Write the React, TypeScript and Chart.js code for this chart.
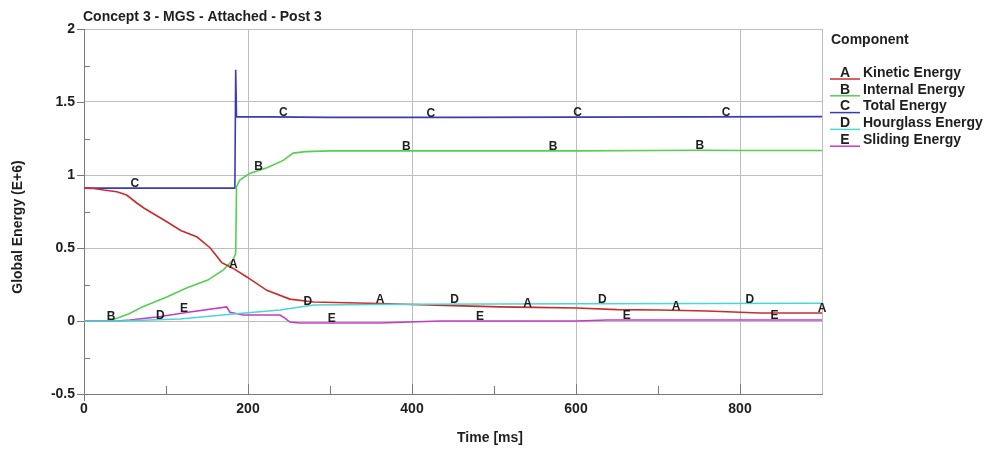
import React, { useEffect, useRef } from "react";
import { Chart, registerables } from "chart.js";

Chart.register(...registerables);

const TITLE = "Concept 3 - MGS - Attached - Post 3";
const X_TITLE = "Time [ms]";
const Y_TITLE = "Global Energy (E+6)";
const LEGEND_TITLE = "Component";

const seriesNames = ["Kinetic Energy", "Internal Energy", "Total Energy", "Hourglass Energy", "Sliding Energy"];
const seriesLetters = ["A", "B", "C", "D", "E"];
const seriesColors = ["#cc2b2b", "#55cf4f", "#3b3bb5", "#4ad6d2", "#c43cc4"];

// Kinetic Energy (A)
const kineticT = [0, 12, 24, 40, 52, 64, 73, 80, 98, 118, 138, 154, 168, 182, 199, 223, 251, 280, 320, 361, 389, 450, 507, 550, 601, 650, 702, 760, 824, 900];
const kineticV = [0.91, 0.908, 0.897, 0.885, 0.863, 0.81, 0.774, 0.75, 0.69, 0.62, 0.575, 0.5, 0.4, 0.36, 0.3, 0.21, 0.15, 0.13, 0.125, 0.12, 0.115, 0.105, 0.097, 0.093, 0.089, 0.078, 0.075, 0.068, 0.055, 0.055];

// Internal Energy (B)
const internalT = [0, 30, 41, 55, 71, 101, 125, 151, 170, 182, 185, 186, 190, 202, 223, 243, 255, 270, 300, 400, 600, 700, 750, 800, 900];
const internalV = [0, 0, 0.02, 0.05, 0.096, 0.165, 0.226, 0.28, 0.35, 0.42, 0.465, 0.92, 0.966, 1.01, 1.05, 1.1, 1.15, 1.16, 1.165, 1.165, 1.165, 1.168, 1.17, 1.168, 1.168];

// Total Energy (C)
const totalT = [0, 183, 184, 185, 186, 300, 450, 900];
const totalV = [0.91, 0.91, 0.92, 1.72, 1.4, 1.395, 1.395, 1.4];

// Hourglass Energy (D)
const hourglassT = [0, 45, 117, 182, 239, 280, 400, 600, 900];
const hourglassV = [0, 0, 0.014, 0.048, 0.075, 0.11, 0.115, 0.118, 0.122];

// Sliding Energy (E)
const slidingT = [0, 40, 56, 89, 129, 174, 178, 194, 239, 245, 251, 263, 361, 434, 600, 638, 751, 900];
const slidingV = [0, 0, 0.007, 0.027, 0.062, 0.096, 0.06, 0.041, 0.041, 0.02, -0.007, -0.014, -0.014, 0, 0, 0.007, 0.007, 0.007];

// letter markers along each curve (time positions)
const labelTimesA = [182, 361, 541, 722, 900];
const labelTimesB = [33, 213, 393, 572, 751];
const labelTimesC = [62, 243, 423, 602, 783];
const labelTimesD = [93, 273, 452, 632, 812];
const labelTimesE = [122, 302, 483, 662, 842];

const xTickValues = [0, 200, 400, 600, 800];
const yTickValues = [-0.5, 0, 0.5, 1, 1.5, 2];

const FONT = "'Liberation Sans', Arial, sans-serif";
const GRID = "#bdbdbd";
const AXIS = "#7a7a7a";
const TEXT = "#1e1e1e";

const seriesT = [kineticT, internalT, totalT, hourglassT, slidingT];
const seriesV = [kineticV, internalV, totalV, hourglassV, slidingV];
const labelTimes = [labelTimesA, labelTimesB, labelTimesC, labelTimesD, labelTimesE];

function interp(t: number[], v: number[], x: number): number {
  if (x <= t[0]) return v[0];
  for (let i = 1; i < t.length; i++) {
    if (x <= t[i]) {
      const f = (x - t[i - 1]) / (t[i] - t[i - 1]);
      return v[i - 1] + f * (v[i] - v[i - 1]);
    }
  }
  return v[v.length - 1];
}

const overlay = {
  id: "overlay",
  afterDatasetsDraw(chart: any) {
    const { ctx, chartArea } = chart;
    const xs = chart.scales.x;
    const ys = chart.scales.y;
    ctx.save();
    // tick marks
    ctx.strokeStyle = AXIS;
    ctx.lineWidth = 1;
    ctx.beginPath();
    for (let v = 100; v < 900; v += 100) {
      const px = Math.round(xs.getPixelForValue(v)) + 0.5;
      ctx.moveTo(px, chartArea.bottom);
      ctx.lineTo(px, chartArea.bottom - (v % 200 === 0 ? 10 : 8));
    }
    const x0 = Math.round(xs.getPixelForValue(0)) + 0.5;
    ctx.moveTo(x0, chartArea.bottom);
    ctx.lineTo(x0, chartArea.bottom + 7);
    for (let k = 0; k <= 10; k++) {
      const v = -0.5 + k * 0.25;
      const py = Math.round(ys.getPixelForValue(v)) + 0.5;
      if (k % 2 === 0) {
        ctx.moveTo(chartArea.left - 7, py);
        ctx.lineTo(chartArea.left, py);
      } else {
        ctx.moveTo(chartArea.left, py);
        ctx.lineTo(chartArea.left + 6, py);
      }
    }
    ctx.stroke();

    // letters on curves
    ctx.fillStyle = TEXT;
    ctx.font = `bold 12px ${FONT}`;
    ctx.textAlign = "center";
    ctx.textBaseline = "middle";
    for (let s = 0; s < 5; s++) {
      for (const t of labelTimes[s]) {
        const val = interp(seriesT[s], seriesV[s], t);
        const px = xs.getPixelForValue(t);
        const py = ys.getPixelForValue(val);
        ctx.fillText(seriesLetters[s], px, py - 4);
      }
    }
    ctx.restore();
  },
  afterDraw(chart: any) {
    const { ctx, chartArea } = chart;
    ctx.save();
    ctx.fillStyle = TEXT;
    // title
    ctx.font = `bold 14px ${FONT}`;
    ctx.textAlign = "left";
    ctx.textBaseline = "middle";
    ctx.fillText(TITLE, chartArea.left - 1, 17);
    // x title
    ctx.textAlign = "center";
    ctx.fillText(X_TITLE, 490, 438);
    // y title
    ctx.save();
    ctx.translate(18, 227);
    ctx.rotate(-Math.PI / 2);
    ctx.fillText(Y_TITLE, 0, 0);
    ctx.restore();
    // legend
    ctx.textAlign = "left";
    ctx.fillText(LEGEND_TITLE, 831, 40);
    for (let i = 0; i < 5; i++) {
      const cy = 73 + i * 16.8;
      ctx.strokeStyle = seriesColors[i];
      ctx.lineWidth = 1.5;
      ctx.beginPath();
      ctx.moveTo(830, cy + 6);
      ctx.lineTo(860, cy + 6);
      ctx.stroke();
      ctx.fillStyle = TEXT;
      ctx.textAlign = "center";
      ctx.fillText(seriesLetters[i], 845, cy);
      ctx.textAlign = "left";
      ctx.fillText(seriesNames[i], 863, cy);
    }
    ctx.restore();
  },
};

export default function App() {
  const ref = useRef<HTMLCanvasElement | null>(null);
  useEffect(() => {
    document.body.style.margin = "0";
    const canvas = ref.current;
    if (!canvas) return;
    const datasets = seriesNames.map((name, i) => ({
      label: name,
      data: seriesT[i].map((t, k) => ({ x: t, y: seriesV[i][k] })),
      borderColor: seriesColors[i],
      backgroundColor: seriesColors[i],
      borderWidth: 1.6,
      pointRadius: 0,
      tension: 0,
      fill: false,
    }));
    const order = [3, 4, 0, 1, 2];
    const chart = new Chart(canvas, {
      type: "line",
      data: { datasets: order.map((i) => datasets[i]) },
      options: {
        animation: false,
        responsive: false,
        devicePixelRatio: 1,
        layout: { padding: { top: 29, right: 169, left: 0, bottom: 0 } },
        plugins: { legend: { display: false }, tooltip: { enabled: false }, title: { display: false } },
        scales: {
          x: {
            type: "linear",
            min: 0,
            max: 900,
            afterFit: (scale: any) => {
              scale.height = 56;
            },
            ticks: {
              stepSize: 100,
              padding: 7,
              maxRotation: 0,
              autoSkip: false,
              color: TEXT,
              font: { family: FONT, size: 14, weight: "bold" },
              callback: (v: any) => (xTickValues.includes(Number(v)) ? String(v) : ""),
            },
            grid: {
              drawTicks: false,
              color: (c: any) => {
                const v = c.tick ? c.tick.value : -1;
                return v % 200 === 0 || v === 900 ? GRID : "rgba(0,0,0,0)";
              },
            },
            border: { display: true, color: AXIS, width: 1 },
          },
          y: {
            type: "linear",
            min: -0.5,
            max: 2,
            afterFit: (scale: any) => {
              scale.width = 84;
            },
            ticks: {
              stepSize: 0.25,
              padding: 9,
              autoSkip: false,
              color: TEXT,
              font: { family: FONT, size: 14, weight: "bold" },
              callback: (v: any) => {
                const n = Number(v);
                const hit = yTickValues.find((t) => Math.abs(t - n) < 1e-6);
                return hit !== undefined ? String(hit) : "";
              },
            },
            grid: {
              drawTicks: false,
              color: (c: any) => {
                const v = c.tick ? c.tick.value : 0;
                return Math.abs(v * 2 - Math.round(v * 2)) < 1e-6 ? GRID : "rgba(0,0,0,0)";
              },
            },
            border: { display: true, color: AXIS, width: 1 },
          },
        },
      },
      plugins: [overlay],
    });
    return () => chart.destroy();
  }, []);
  return <canvas ref={ref} width={991} height={450} style={{ display: "block", width: 991, height: 450 }} />;
}
